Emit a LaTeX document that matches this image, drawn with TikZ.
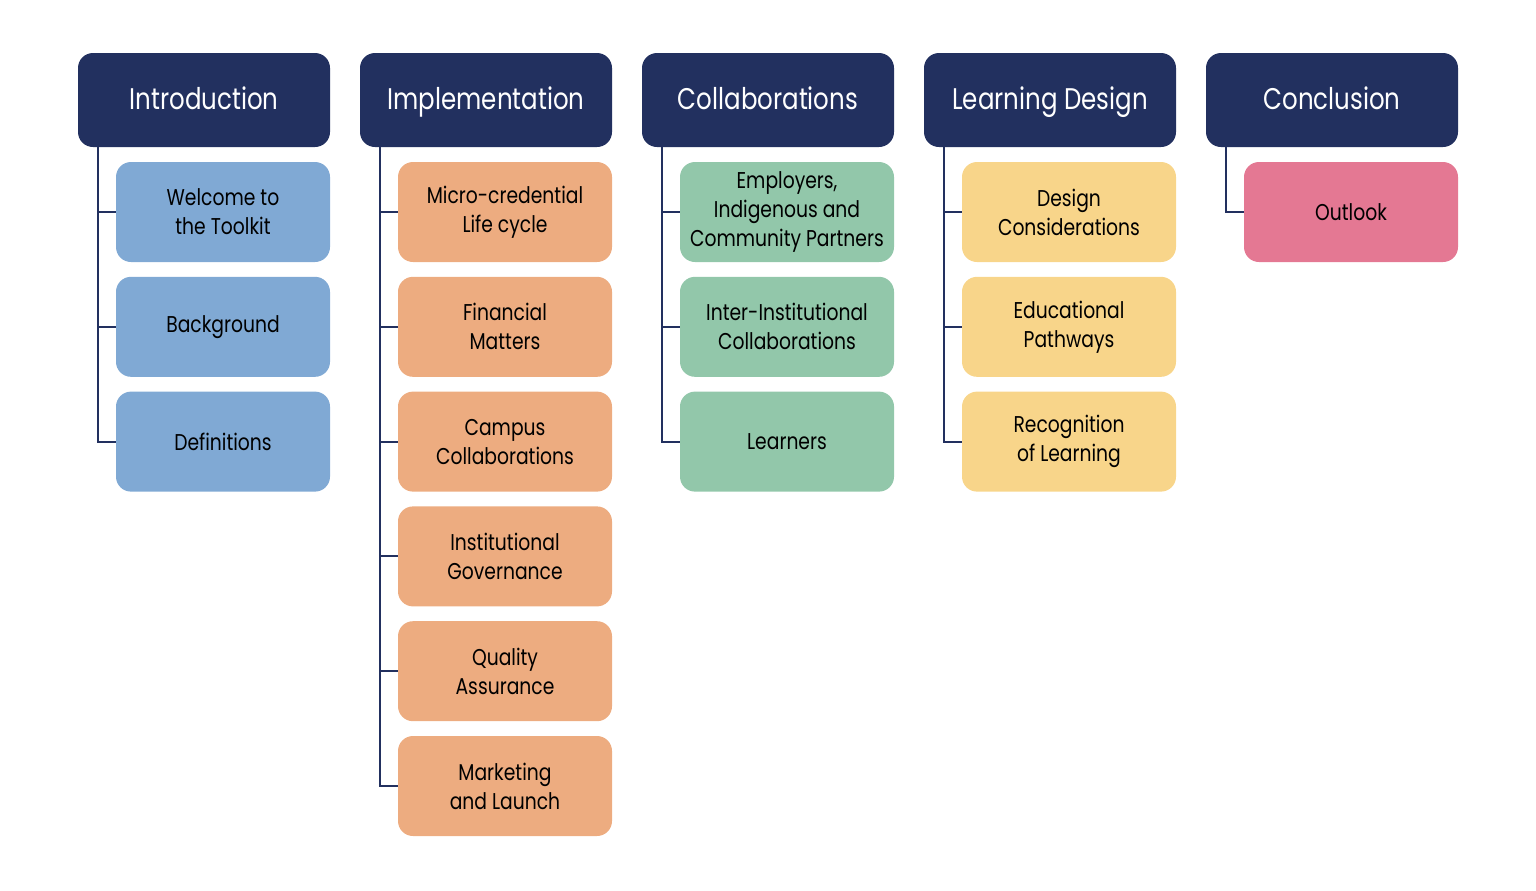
\documentclass[tikz,border=0pt]{standalone}
\usepackage{fontspec}
\setmainfont[FakeStretch=0.82]{Poppins}
\usetikzlibrary{positioning}
\definecolor{navy}{HTML}{22305F}
\definecolor{introblue}{HTML}{80A9D4}
\definecolor{implorange}{HTML}{EDAC80}
\definecolor{collabgreen}{HTML}{92C7AA}
\definecolor{designyellow}{HTML}{F8D58A}
\definecolor{conclpink}{HTML}{E47893}
\begin{document}
\begin{tikzpicture}[head/.style={rectangle, rounded corners=0.3cm, outer sep=0pt, fill=navy, text=white, minimum width=5.04cm, minimum height=1.88cm, text height=1.1em, text depth=0pt, font=\fontsize{17}{20}\selectfont}, topic/.style={rectangle, rounded corners=0.3cm, outer sep=0pt, minimum width=4.28cm, minimum height=2cm, align=center, font=\fontsize{13}{16.5}\selectfont}, introtopic/.style={topic, fill=introblue}, impltopic/.style={topic, fill=implorange}, collabtopic/.style={topic, fill=collabgreen}, designtopic/.style={topic, fill=designyellow}, concltopic/.style={topic, fill=conclpink}, tree/.style={draw=navy, line width=1.1pt}]
		\useasboundingbox (0,0) rectangle (30.72,-17.8);

		% column heads
		\node[head] (intro) at (4.08,-2.0) {Introduction};
		\node[head, right=0.6cm of intro] (impl) {Implementation};
		\node[head, right=0.6cm of impl] (collab) {Collaborations};
		\node[head, right=0.6cm of collab] (design) {Learning Design};
		\node[head, right=0.6cm of design] (concl) {Conclusion};

		% Introduction
		\node[introtopic, below=0.3cm of intro.south east, anchor=north east] (welcome) {Welcome to\\the Toolkit};
		\node[introtopic, below=0.296cm of welcome] (background) {Background};
		\node[introtopic, below=0.296cm of background] (definitions) {Definitions};

		% Implementation
		\node[impltopic, below=0.3cm of impl.south east, anchor=north east] (lifecycle) {Micro-credential\\Life cycle};
		\node[impltopic, below=0.296cm of lifecycle] (financial) {Financial\\Matters};
		\node[impltopic, below=0.296cm of financial] (campus) {Campus\\Collaborations};
		\node[impltopic, below=0.296cm of campus] (governance) {Institutional\\Governance};
		\node[impltopic, below=0.296cm of governance] (quality) {Quality\\Assurance};
		\node[impltopic, below=0.296cm of quality] (marketing) {Marketing\\and Launch};

		% Collaborations
		\node[collabtopic, below=0.3cm of collab.south east, anchor=north east] (partners) {Employers,\\Indigenous and\\Community Partners};
		\node[collabtopic, below=0.296cm of partners] (interinst) {Inter-Institutional\\Collaborations};
		\node[collabtopic, below=0.296cm of interinst] (learners) {Learners};

		% Learning Design
		\node[designtopic, below=0.3cm of design.south east, anchor=north east] (considerations) {Design\\Considerations};
		\node[designtopic, below=0.296cm of considerations] (pathways) {Educational\\Pathways};
		\node[designtopic, below=0.296cm of pathways] (recognition) {Recognition\\of Learning};

		% Conclusion
		\node[concltopic, below=0.3cm of concl.south east, anchor=north east] (outlook) {Outlook};

		% trunks
		\coordinate (introtrunk) at ([xshift=0.4cm]intro.south west);
		\coordinate (impltrunk) at ([xshift=0.4cm]impl.south west);
		\coordinate (collabtrunk) at ([xshift=0.4cm]collab.south west);
		\coordinate (designtrunk) at ([xshift=0.4cm]design.south west);
		\coordinate (concltrunk) at ([xshift=0.4cm]concl.south west);

		\draw[tree] (introtrunk) |- (welcome.west);
		\draw[tree] (introtrunk) |- (background.west);
		\draw[tree] (introtrunk) |- (definitions.west);

		\draw[tree] (impltrunk) |- (lifecycle.west);
		\draw[tree] (impltrunk) |- (financial.west);
		\draw[tree] (impltrunk) |- (campus.west);
		\draw[tree] (impltrunk) |- (governance.west);
		\draw[tree] (impltrunk) |- (quality.west);
		\draw[tree] (impltrunk) |- (marketing.west);

		\draw[tree] (collabtrunk) |- (partners.west);
		\draw[tree] (collabtrunk) |- (interinst.west);
		\draw[tree] (collabtrunk) |- (learners.west);

		\draw[tree] (designtrunk) |- (considerations.west);
		\draw[tree] (designtrunk) |- (pathways.west);
		\draw[tree] (designtrunk) |- (recognition.west);

		\draw[tree] (concltrunk) |- (outlook.west);
	\end{tikzpicture}
\end{document}
